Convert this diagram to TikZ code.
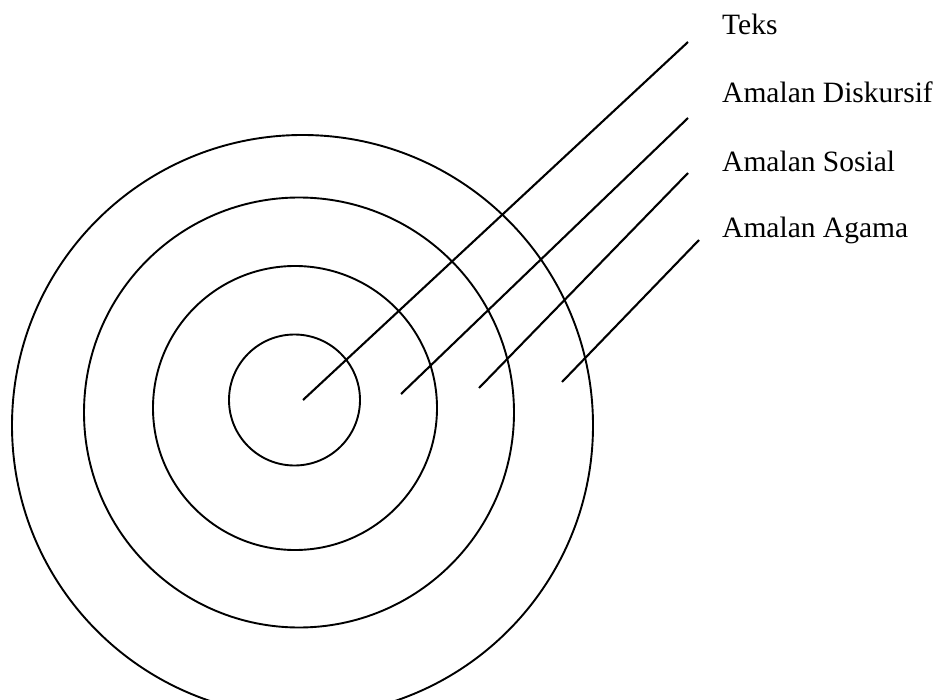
\documentclass[tikz,border=0pt]{standalone}
\usepackage{fontspec}
\setmainfont{Liberation Serif}
\begin{document}
\begin{tikzpicture}[x=1pt,y=-1pt,
  ring/.style={draw=black, line width=1.9pt},
  ray/.style={draw=black, line width=2.1pt},
  lbl/.style={anchor=base west, inner sep=0pt, font=\fontsize{29.5}{34}\selectfont}]
\useasboundingbox (0,0) rectangle (933,700);
\clip (0,0) rectangle (933,700);
% rings
\draw[ring] (294.5,400) circle (65.5pt);
\draw[ring] (295,408) circle (142pt);
\draw[ring] (299,412.5) circle (215pt);
\draw[ring] (302.5,425.5) circle (290.5pt);
% ray end points
\coordinate (s1) at (303,400);
\coordinate (e1) at (688,42);
\coordinate (s2) at (401,394);
\coordinate (e2) at (688,118);
\coordinate (s3) at (479,388);
\coordinate (e3) at (688,173);
\coordinate (s4) at (562,382);
\coordinate (e4) at (699,240);
\draw[ray] (s1) -- (e1);
\draw[ray] (s2) -- (e2);
\draw[ray] (s3) -- (e3);
\draw[ray] (s4) -- (e4);
% labels
\node[lbl] (t1) at (722,35) {Teks};
\node[lbl] (t2) at (722,103) {Amalan Diskursif};
\node[lbl] (t3) at (722,172) {Amalan Sosial};
\node[lbl] (t4) at (722,238) {Amalan Agama};
\end{tikzpicture}
\end{document}
